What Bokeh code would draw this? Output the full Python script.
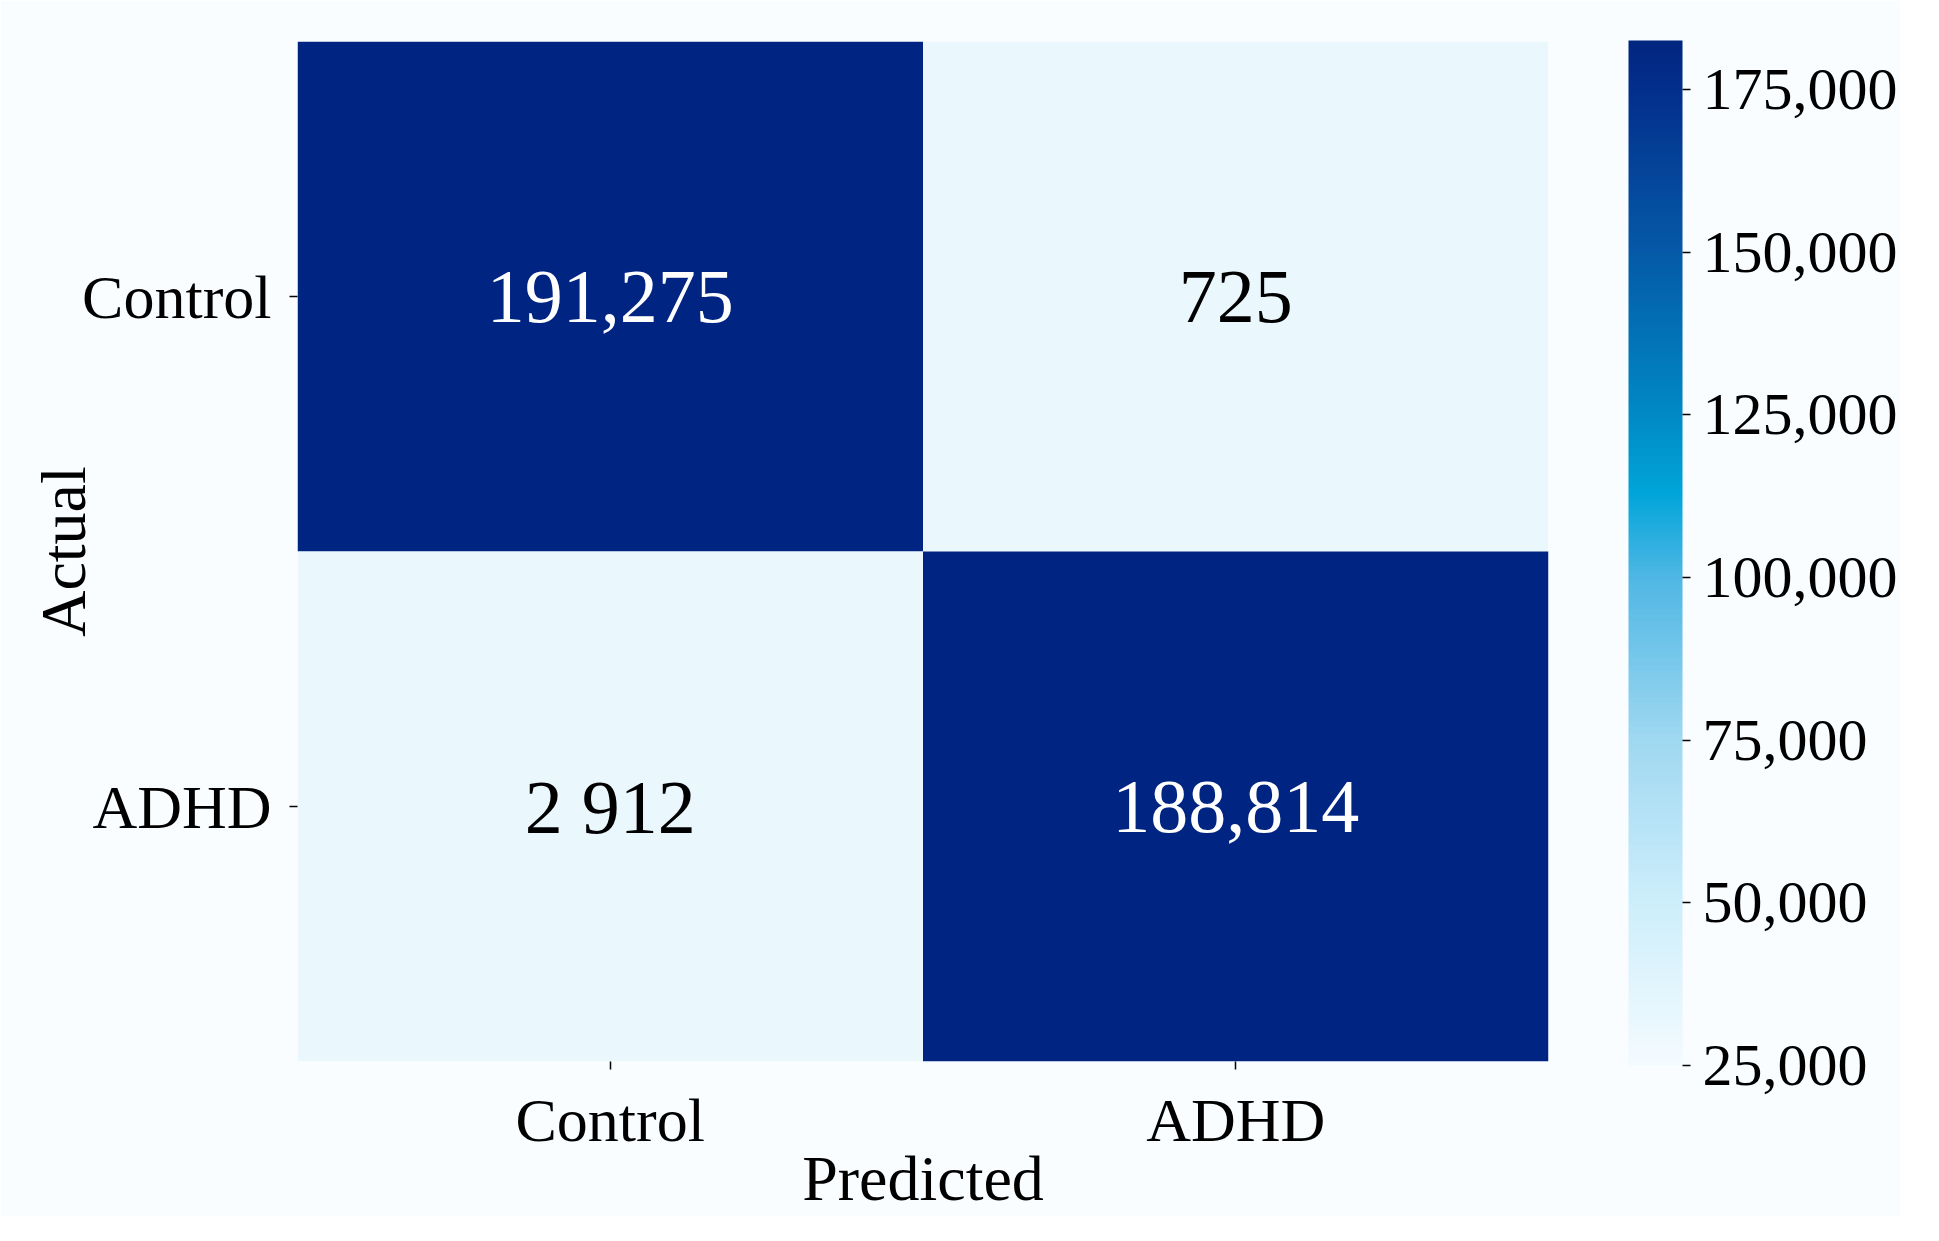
from bokeh.plotting import figure
from bokeh.models import (ColumnDataSource, FactorRange, LinearColorMapper, ColorBar,
                          FixedTicker, NumeralTickFormatter)
from bokeh.transform import transform
from bokeh.core.properties import value
from bokeh.embed import file_html
from bokeh.resources import INLINE

# ---- data ----
predicted = ["Control", "ADHD", "Control", "ADHD"]
actual = ["Control", "Control", "ADHD", "ADHD"]
counts = [191275, 725, 2912, 188814]
cell_labels = ["191,275", "725", "2 912", "188,814"]
x_categories = ["Control", "ADHD"]
y_categories = ["ADHD", "Control"]
cbar_ticks = [25000, 50000, 75000, 100000, 125000, 150000, 175000]

# ---- palette (light -> dark blue, through cyan) ----
stops = [(0.0, "#f4fbff"), (0.1587, "#cdeefb"), (0.3175, "#9fd8f1"), (0.476, "#4fb7e4"),
         (0.5587, "#00a5d9"), (0.635, "#0089c5"), (0.794, "#055aa8"), (0.952, "#032f8c"),
         (1.0, "#012680")]

def hx(c):
    return tuple(int(c[i:i + 2], 16) for i in (1, 3, 5))

palette = []
N = 256
for i in range(N):
    t = i / (N - 1)
    for (a, ca), (b, cb) in zip(stops[:-1], stops[1:]):
        if a <= t <= b:
            f = (t - a) / (b - a) if b > a else 0
            A, B = hx(ca), hx(cb)
            palette.append("#%02x%02x%02x" % tuple(round(A[k] + (B[k] - A[k]) * f) for k in range(3)))
            break

mapper = LinearColorMapper(palette=palette, low=25000, high=182500,
                           low_color="#eaf8fe", high_color="#002482")

text_colors = ["white" if v > 100000 else "black" for v in counts]
src = ColumnDataSource(dict(predicted=predicted, actual=actual, counts=counts,
                            labels=cell_labels, tcol=text_colors))

BG = "#fafdff"
FONT = "Liberation Serif"

p = figure(x_range=FactorRange(*x_categories), y_range=FactorRange(*y_categories),
           frame_width=1251, frame_height=1020, min_border_left=297, min_border_top=41,
           min_border_bottom=110, min_border_right=10,
           output_backend="svg", toolbar_location=None,
           background_fill_color=BG, border_fill_color=BG, outline_line_color=None)

p.rect(x="predicted", y="actual", width=1, height=1, source=src,
       fill_color=transform("counts", mapper), line_color=None)

p.text(x="predicted", y="actual", text="labels", source=src, text_color="tcol",
       text_align="center", text_baseline="middle", text_font=value(FONT),
       text_font_size="76px")

p.grid.visible = False
for ax in (p.xaxis[0], p.yaxis[0]):
    ax.axis_line_color = None
    ax.major_tick_in = 0
    ax.major_tick_out = 8
    ax.major_tick_line_color = "black"
    ax.major_tick_line_width = 1.5
    ax.major_label_text_font = FONT
    ax.major_label_text_font_size = "62px"
    ax.major_label_text_color = "black"
    ax.axis_label_text_font = FONT
    ax.axis_label_text_font_size = "64px"
    ax.axis_label_text_font_style = "normal"
    ax.axis_label_text_color = "black"

p.xaxis.axis_label = "Predicted"
p.yaxis.axis_label = "Actual"
p.xaxis.major_label_standoff = 16
p.xaxis.axis_label_standoff = -14
p.yaxis.major_label_standoff = 18
p.yaxis.axis_label_standoff = -20

cb = ColorBar(color_mapper=mapper, width=54, height=1025, padding=0,
              location=(80, -4), ticker=FixedTicker(ticks=cbar_ticks),
              formatter=NumeralTickFormatter(format="0,0"),
              major_tick_in=0, major_tick_out=8, major_tick_line_color="black",
              major_tick_line_width=1.5, label_standoff=12,
              major_label_text_font=FONT, major_label_text_font_size="60px",
              major_label_text_color="black", bar_line_color=None,
              background_fill_color=None, border_line_color=None)
p.add_layout(cb, "right")

open("out.html", "w").write(file_html(p, INLINE))
